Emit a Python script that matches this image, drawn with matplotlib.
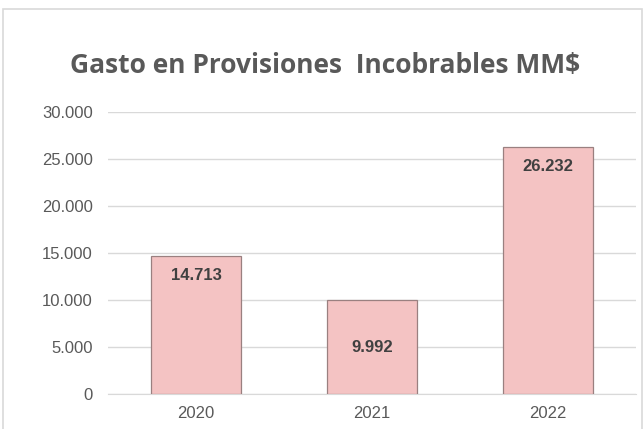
import matplotlib.pyplot as plt
from matplotlib.patches import Rectangle
from matplotlib.ticker import FuncFormatter

years = ['2020', '2021', '2022']
gasto = [14713, 9992, 26232]
label_drop = [20, 47, 19]  # how far below the bar top each label sits (px)

def fmt_miles(v, pos=None):
    return f'{v:,.0f}'.replace(',', '.')

fig = plt.figure(figsize=(6.44, 4.29), dpi=100)
fig.patch.set_facecolor('white')

# marco del grafico
fig.patches.append(Rectangle((3 / 644, -0.1), 639 / 644, 1.1 - 9 / 429,
                             transform=fig.transFigure, fill=False,
                             edgecolor='#d9d9d9', linewidth=1.2))

ax = fig.add_axes([108 / 644, 1 - 394 / 429, 528 / 644, 282 / 429])
x = range(len(years))
bars = ax.bar(x, gasto, 0.51, color='#f4c3c3', edgecolor='#9a8080',
              linewidth=0.9, zorder=3)

ax.set_ylim(0, 30000)
ax.set_xlim(-0.5, 2.5)
ax.set_yticks(range(0, 30001, 5000))
ax.yaxis.set_major_formatter(FuncFormatter(fmt_miles))
ax.set_xticks(list(x))
ax.set_xticklabels(years)
ax.grid(axis='y', color='#d9d9d9', linewidth=1, zorder=0)
for s in ['top', 'right', 'left']:
    ax.spines[s].set_visible(False)
ax.spines['bottom'].set_color('#d9d9d9')
ax.tick_params(length=0, labelsize=12, labelcolor='#595959')
ax.tick_params(axis='y', pad=11)
ax.tick_params(axis='x', pad=9)
for lbl in ax.get_xticklabels() + ax.get_yticklabels():
    lbl.set_family('Liberation Sans')

for b, v, d in zip(bars, gasto, label_drop):
    ax.annotate(fmt_miles(v), (b.get_x() + b.get_width() / 2, v),
                xytext=(0, -d * 72 / 100), textcoords='offset points',
                ha='center', va='center', fontsize=12, fontweight='bold',
                color='#404040', family='Liberation Sans', zorder=4)

fig.text(325 / 644, 1 - 65 / 429, 'Gasto en Provisiones  Incobrables MM$',
         ha='center', va='center', fontsize=19, fontweight='bold',
         color='#595959', family='Open Sans')

fig.savefig('out.png', dpi=100)
